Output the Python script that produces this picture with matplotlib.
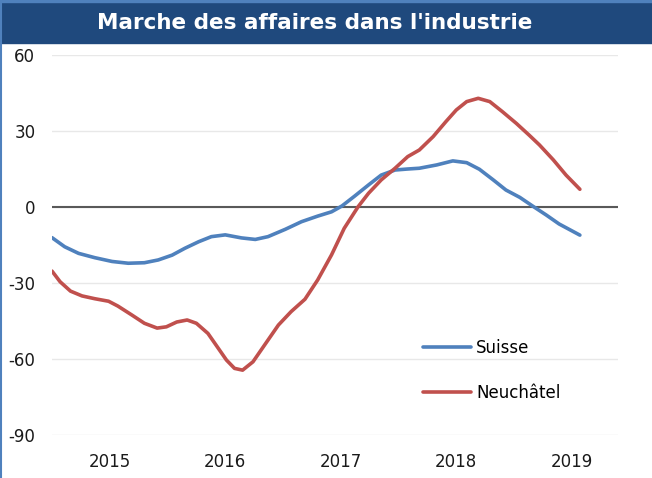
import matplotlib
matplotlib.use('Agg')
import matplotlib.pyplot as plt
from matplotlib.patches import Rectangle
from matplotlib.lines import Line2D

# ── DATA ──
title = "Marche des affaires dans l'industrie"

suisse_x = [2015.00, 2015.11, 2015.23, 2015.37, 2015.52, 2015.66, 2015.80,
            2015.92, 2016.04, 2016.15, 2016.27, 2016.38, 2016.50, 2016.64,
            2016.76, 2016.87, 2017.02, 2017.16, 2017.30, 2017.42, 2017.51,
            2017.62, 2017.74, 2017.85, 2017.97, 2018.08, 2018.18, 2018.33,
            2018.47, 2018.59, 2018.70, 2018.82, 2018.93, 2019.05, 2019.16,
            2019.28, 2019.39, 2019.57]
suisse_y = [-12.1, -15.7, -18.3, -20.0, -21.5, -22.2, -22.0,
            -20.9, -19.0, -16.3, -13.7, -11.7, -11.0, -12.2,
            -12.8, -11.7, -8.8, -5.8, -3.6, -1.9, 0.4,
            4.3, 8.7, 12.6, 14.6, 15.0, 15.3, 16.6,
            18.2, 17.5, 14.9, 10.7, 6.7, 3.8, 0.4,
            -3.2, -6.7, -11.1]

neuch_x = [2015.00, 2015.07, 2015.16, 2015.26, 2015.37, 2015.49, 2015.57,
           2015.69, 2015.80, 2015.91, 2015.99, 2016.08, 2016.17, 2016.25,
           2016.35, 2016.44, 2016.51, 2016.58, 2016.65, 2016.74, 2016.84,
           2016.96, 2017.07, 2017.19, 2017.30, 2017.42, 2017.53, 2017.65,
           2017.74, 2017.85, 2017.97, 2018.08, 2018.18, 2018.30, 2018.41,
           2018.50, 2018.59, 2018.69, 2018.79, 2018.90, 2019.02, 2019.13,
           2019.22, 2019.34, 2019.45, 2019.57]
neuch_y = [-25.3, -29.5, -33.2, -35.1, -36.2, -37.2, -39.1,
           -42.6, -45.9, -47.8, -47.3, -45.4, -44.6, -45.9,
           -49.9, -55.8, -60.4, -63.7, -64.4, -61.1, -54.5,
           -46.6, -41.3, -36.4, -28.8, -18.9, -8.4, 0.1,
           5.4, 10.7, 15.3, 19.9, 22.5, 27.8, 33.7,
           38.3, 41.6, 42.9, 41.6, 37.6, 33.0, 28.4,
           24.5, 18.6, 12.6, 7.0]

years = [2015, 2016, 2017, 2018, 2019]
y_ticks = [-90, -60, -30, 0, 30, 60]

dark_blue = '#1F497D'
blue = '#4F81BD'
red = '#C0504D'

# ── FIGURE ──
W, H = 652, 478
fig = plt.figure(figsize=(W / 100, H / 100), dpi=100)
ax = fig.add_axes([52 / W, 1 - 435 / H, (618 - 52) / W, (435 - 55) / H])

# title band
fig.patches.append(Rectangle((0, 1 - 43 / H), 1, 41 / H,
                             transform=fig.transFigure, color=dark_blue,
                             zorder=0))
fig.patches.append(Rectangle((0, 1 - 2 / H), 1, 2 / H,
                             transform=fig.transFigure, color=blue, zorder=0))
fig.lines.append(Line2D([0.8 / W, 0.8 / W], [0, 1], transform=fig.transFigure,
                        color=blue, lw=1.5))
fig.text(315 / W, 1 - 23 / H, title, color='white', fontsize=15.5,
         fontweight='bold', ha='center', va='center')

ax.plot(suisse_x, suisse_y, color=blue, lw=2.6, label='Suisse',
        solid_capstyle='round', zorder=3)
ax.plot(neuch_x, neuch_y, color=red, lw=2.6, label='Neuchâtel',
        solid_capstyle='round', zorder=3)

ax.set_ylim(-90, 60)
ax.set_xlim(2015, 2019.9)
ax.set_yticks(y_ticks)
ax.set_yticklabels([str(v) for v in y_ticks])
ax.set_xticks([y + 0.5 for y in years])
ax.set_xticklabels([str(y) for y in years])
ax.tick_params(length=0, labelsize=12, colors='#1a1a1a')
ax.tick_params(axis='y', pad=12)
ax.tick_params(axis='x', pad=13)

ax.grid(axis='y', color='#E8E8E8', lw=1)
ax.axhline(0, color='#595959', lw=1.5, zorder=2)
for s in ax.spines.values():
    s.set_visible(False)

ax.legend(loc='upper left', bbox_to_anchor=(423 / W, 1 - 339 / H),
          bbox_transform=fig.transFigure, frameon=False, fontsize=12,
          handlelength=2.9, handletextpad=0.3, labelspacing=1.6,
          borderpad=0, borderaxespad=0)

plt.savefig('out.png', dpi=100)
